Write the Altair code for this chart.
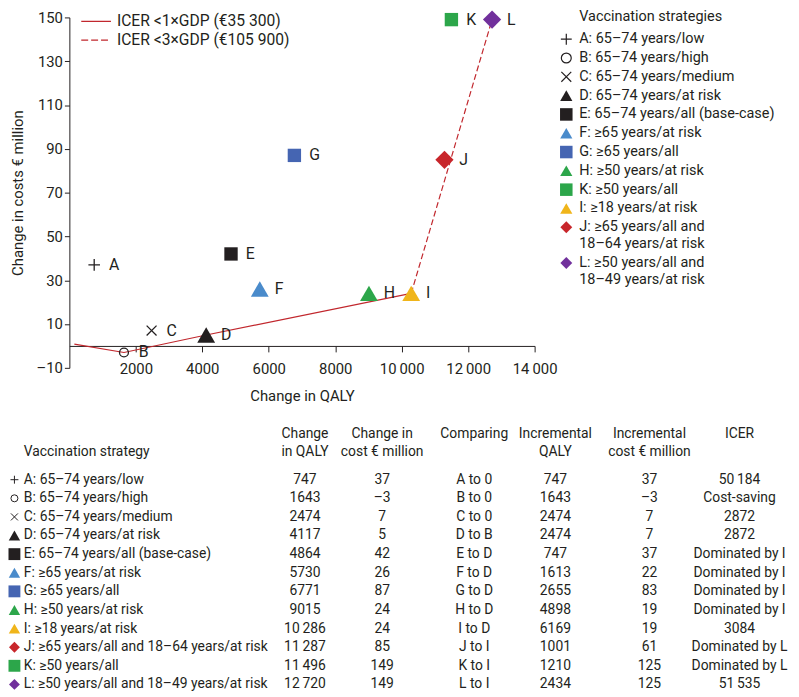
import altair as alt
import pandas as pd

# ------------------------------------------------------------------ data
THIN = "\u2009"
keys = ["A", "B", "C", "D", "E", "F", "G", "H", "I", "J", "K", "L"]
strategies = [
    "65–74 years/low",
    "65–74 years/high",
    "65–74 years/medium",
    "65–74 years/at risk",
    "65–74 years/all (base-case)",
    "≥65 years/at risk",
    "≥65 years/all",
    "≥50 years/at risk",
    "≥18 years/at risk",
    "≥65 years/all and 18–64 years/at risk",
    "≥50 years/all",
    "≥50 years/all and 18–49 years/at risk",
]
change_qaly = [747, 1643, 2474, 4117, 4864, 5730, 6771, 9015, 10286, 11287, 11496, 12720]
change_cost = [37, -3, 7, 5, 42, 26, 87, 24, 24, 85, 149, 149]
comparing = ["A to 0", "B to 0", "C to 0", "D to B", "E to D", "F to D",
             "G to D", "H to D", "I to D", "J to I", "K to I", "L to I"]
incr_qaly = [747, 1643, 2474, 2474, 747, 1613, 2655, 4898, 6169, 1001, 1210, 2434]
incr_cost = [37, -3, 7, 7, 37, 22, 83, 19, 19, 61, 125, 125]
icer = ["50" + THIN + "184", "Cost-saving", "2872", "2872", "Dominated by I",
        "Dominated by I", "Dominated by I", "Dominated by I", "3084",
        "Dominated by L", "Dominated by L", "51" + THIN + "535"]

frontier_origin_qaly = 150
frontier_origin_cost = 0.8
frontier_solid = ["B", "D", "I"]
frontier_dashed = ["I", "L"]
icer_thresholds = ["ICER <1×GDP (€35 300)", "ICER <3×GDP (€105 900)"]
legend_order = ["A", "B", "C", "D", "E", "F", "G", "H", "K", "I", "J", "L"]
x_ticks = [2000, 4000, 6000, 8000, 10000, 12000, 14000]
y_ticks = [-10, 10, 30, 50, 70, 90, 110, 130, 150]

# ------------------------------------------------------------------ styles
FONT = "Roboto"
INK = "#231f20"
RED = "#c1272d"
COLORS = {"A": INK, "B": INK, "C": INK, "D": INK, "E": INK,
          "F": "#4a8bcb", "G": "#4565b2", "H": "#2ca64a", "I": "#f0b51a",
          "J": "#c8262b", "K": "#2ca64a", "L": "#71309c"}
MARKER = {"A": "plus", "B": "circle", "C": "x", "D": "tri", "E": "sq", "F": "tri",
          "G": "sq", "H": "tri", "I": "tri", "J": "dia", "K": "sq", "L": "dia"}
SHAPE = {"plus": ("M-1,0L1,0M0,-1L0,1", False),
         "circle": ("circle", False),
         "x": ("M-1,-1L1,1M-1,1L1,-1", False),
         "tri": ("triangle-up", True),
         "sq": ("square", True),
         "dia": ("diamond", True)}
SIZE_PLOT = {"plus": 137, "circle": 81, "x": 100, "tri": 324, "sq": 182, "dia": 340}
SIZE_LEG = {"plus": 121, "circle": 100, "x": 100, "tri": 151, "sq": 160, "dia": 144}
SIZE_TAB = {"plus": 64, "circle": 50, "x": 50, "tri": 132, "sq": 144, "dia": 121}

W, H = 791, 689
X_RANGE = [62, 532]
Y_DOMAIN = [-10, 150]
Y_RANGE = [360, 6]
y_zero = Y_RANGE[0] + (0 - Y_DOMAIN[0]) / (Y_DOMAIN[1] - Y_DOMAIN[0]) * (Y_RANGE[1] - Y_RANGE[0])

color_scale = alt.Scale(domain=keys, range=[COLORS[k] for k in keys])


def marker_layers(data, x, y, sizes, sw):
    out = []
    for grp, (shape, filled) in SHAPE.items():
        ks = [k for k in keys if MARKER[k] == grp]
        out.append(
            alt.Chart(data)
            .transform_filter(alt.FieldOneOfPredicate(field="k", oneOf=ks))
            .mark_point(shape=shape, size=sizes[grp], filled=filled, opacity=1, strokeWidth=sw)
            .encode(x=x, y=y, color=alt.Color("k:N", scale=color_scale, legend=None))
        )
    return out


# ------------------------------------------------------------------ scatter
pts = pd.DataFrame({"k": keys, "q": change_qaly, "c": change_cost})
lookup_q = dict(zip(keys, change_qaly))
lookup_c = dict(zip(keys, change_cost))

solid = pd.DataFrame({
    "q": [frontier_origin_qaly] + [lookup_q[k] for k in frontier_solid],
    "c": [frontier_origin_cost] + [lookup_c[k] for k in frontier_solid],
})
solid["o"] = range(len(solid))
dashed = pd.DataFrame({"q": [lookup_q[k] for k in frontier_dashed],
                       "c": [lookup_c[k] for k in frontier_dashed]})
dashed["o"] = range(len(dashed))

xs = alt.Scale(domain=[0, 14000], range=X_RANGE)
ys = alt.Scale(domain=Y_DOMAIN, range=Y_RANGE)

x_axis = alt.Axis(
    orient="bottom", values=x_ticks, title="Change in QALY", offset=-(H - y_zero), tickSize=6,
    labelPadding=10, titlePadding=12, labelFlush=False, labelOverlap=False,
    labelExpr="datum.value >= 10000 ? floor(datum.value / 1000) + '" + THIN + "000' : toString(datum.value)",
)
y_axis = alt.Axis(
    orient="left", values=y_ticks, title="Change in costs € million", offset=-X_RANGE[0], tickSize=5,
    labelPadding=2, titlePadding=11, labelFlush=False, labelOverlap=False,
    labelExpr="datum.value < 0 ? '–' + toString(-datum.value) : toString(datum.value)",
)

line_solid = alt.Chart(solid).mark_line(color=RED, strokeWidth=1.2).encode(
    x=alt.X("q:Q", scale=xs, axis=x_axis),
    y=alt.Y("c:Q", scale=ys, axis=y_axis),
    order="o:Q",
)
px = alt.X("q:Q", scale=xs, axis=None)
py = alt.Y("c:Q", scale=ys, axis=None)
line_dashed = alt.Chart(dashed).mark_line(color=RED, strokeWidth=1.2, strokeDash=[6, 3]).encode(
    x=px, y=py, order="o:Q",
)
point_labels = alt.Chart(pts).mark_text(align="left", baseline="middle", dx=15, fontSize=16,
                                        color=INK, font=FONT).encode(x=px, y=py, text="k:N")
scatter_layers = [line_solid, line_dashed, *marker_layers(pts, px, py, SIZE_PLOT, 1.3), point_labels]

# ------------------------------------------------------------------ ICER legend (top left)
icer_df = pd.DataFrame({"lab": icer_thresholds, "i": list(range(len(icer_thresholds)))})
icer_y = alt.Y("i:Q", scale=alt.Scale(domain=[0, 1], range=[10, 29]), axis=None)
icer_rules = alt.Chart(icer_df).mark_rule(color=RED, strokeWidth=1.2).encode(
    x=alt.value(74), x2=alt.value(104), y=icer_y,
    strokeDash=alt.StrokeDash("lab:N", scale=alt.Scale(domain=icer_thresholds, range=[[1, 0], [7, 3]]),
                              legend=None),
)
icer_text = alt.Chart(icer_df).mark_text(align="left", baseline="middle", fontSize=15.8,
                                         color=INK, font=FONT).encode(
    x=alt.value(110), y=icer_y, text="lab:N")
icer_layers = [icer_rules, icer_text]

# ------------------------------------------------------------------ strategy legend (right)
leg_rows = []
slot = 0.0
for k in legend_order:
    label = f"{k}: {strategies[keys.index(k)]}"
    if " and " in label:
        head, tail = label.split(" and ", 1)
        lines = [head + " and", tail]
    else:
        lines = [label]
    for j, line in enumerate(lines):
        leg_rows.append({"k": k if j == 0 else "", "t": line, "s": slot + 0.9 * j})
    slot += 1 + 0.9 * (len(lines) - 1)
leg_df = pd.DataFrame(leg_rows)
leg_y = alt.Y("s:Q", scale=alt.Scale(domain=[0, 10], range=[28, 218]), axis=None)
leg_text = alt.Chart(leg_df).mark_text(align="left", baseline="middle", fontSize=14.6,
                                       color=INK, font=FONT).encode(
    x=alt.value(577), y=leg_y, text="t:N")
leg_title = alt.Chart(pd.DataFrame({"t": ["Vaccination strategies"]})).mark_text(
    align="left", baseline="middle", fontSize=14.6, color=INK, font=FONT).encode(
    x=alt.value(577), y=alt.value(6), text="t:N")
legend_layers = [leg_title, leg_text, *marker_layers(leg_df, alt.value(564), leg_y, SIZE_LEG, 1.2)]

# ------------------------------------------------------------------ table
def fmt(v):
    s = str(abs(v))
    if abs(v) >= 10000:
        s = s[:-3] + THIN + s[-3:]
    return ("–" if v < 0 else "") + s


HEAD1, HEAD2 = -2.45, -1.49
columns = [
    ("name", 16, "left", [None, "Vaccination strategy"], [f"{k}: {s}" for k, s in zip(keys, strategies)]),
    ("dq", 300, "center", ["Change", "in QALY"], [fmt(v) for v in change_qaly]),
    ("dc", 378, "center", ["Change in", "cost € million"], [fmt(v) for v in change_cost]),
    ("cmp", 471, "center", ["Comparing", None], comparing),
    ("iq", 553, "center", ["Incremental", "QALY"], [fmt(v) for v in incr_qaly]),
    ("ic", 648, "center", ["Incremental", "cost € million"], [fmt(v) for v in incr_cost]),
    ("icer", 739, "center", ["ICER", None], icer),
]
row_y = alt.Y("r:Q", scale=alt.Scale(domain=[-3, 11], range=[416.6, 679.8]), axis=None)
table_layers = []
for col, xpos, align, heads, body in columns:
    rows = []
    for hr, ht in zip([HEAD1, HEAD2], heads):
        if ht is not None:
            rows.append({"r": hr, "t": ht})
    rows += [{"r": i, "t": t} for i, t in enumerate(body)]
    table_layers.append(
        alt.Chart(pd.DataFrame(rows)).mark_text(align=align, baseline="middle", fontSize=14,
                                                 color=INK, font=FONT).encode(
            x=alt.value(xpos), y=row_y, text="t:N")
    )
tab_sym = pd.DataFrame({"k": keys, "r": list(range(len(keys)))})
table_layers += marker_layers(tab_sym, alt.value(6.5), row_y, SIZE_TAB, 1.0)

# ------------------------------------------------------------------ assemble
chart = (
    alt.layer(*scatter_layers, *icer_layers, *legend_layers, *table_layers)
    .resolve_scale(x="independent", y="independent")
    .properties(width=W, height=H, padding=0, autosize=alt.AutoSizeParams(type="none"))
    .configure(font=FONT)
    .configure_view(stroke=None)
    .configure_axis(grid=False, labelFont=FONT, titleFont=FONT, labelFontSize=15, titleFontSize=15,
                    titleFontWeight="normal", labelColor=INK, titleColor=INK, domainColor=INK,
                    tickColor=INK, domainWidth=1, tickWidth=1)
)
chart.save("out.html", embed_options={"renderer": "svg", "actions": False})
